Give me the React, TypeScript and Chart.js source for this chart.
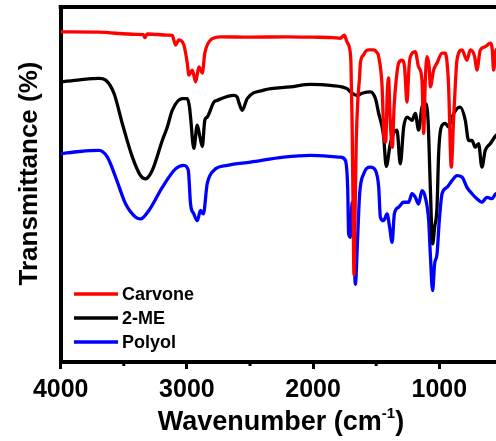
import React, { useEffect, useRef } from "react";
import { Chart, registerables } from "chart.js";

Chart.register(...registerables);

const seriesLabels = ["Carvone", "2-ME", "Polyol"];
const seriesColors = ["#ff0000", "#000000", "#0000ff"];

const carvoneWavenumber = [
  4000, 3700, 3400, 3345, 3333, 3315, 3150, 3116, 3090, 3064, 3024, 3005, 2997, 2984, 2957, 2931, 2905, 2878,
  2858, 2813, 2733, 2500, 2200, 2000, 1850, 1784, 1752, 1735, 1726, 1712, 1700, 1691, 1682, 1676, 1668, 1658,
  1645, 1632, 1625, 1600, 1586, 1560, 1520, 1495, 1480, 1453, 1438, 1425, 1412, 1402, 1390, 1372, 1358, 1340,
  1322, 1295, 1275, 1256, 1240, 1229, 1190, 1164, 1137, 1124, 1110, 1097, 1080, 1071, 1045, 1018, 978, 952,
  935, 926, 905, 887, 870, 860, 820, 781, 754, 720, 702, 675, 636, 596, 580, 570, 551, 500, 400,
];
const carvoneT = [
  93.0, 92.9, 92.3, 92.2, 91.4, 92.4, 92.1, 92.0, 89.3, 90.7, 89.3, 86.0, 84.2, 80.8, 82.2, 78.9, 83.1, 81.4,
  87.0, 90.7, 91.6, 91.5, 91.6, 91.5, 91.4, 91.2, 92.1, 90.5, 89.8, 88.5, 84.0, 68.0, 40.0, 24.5, 40.0, 62.0,
  74.0, 80.0, 84.2, 86.5, 87.4, 87.9, 87.9, 87.2, 86.0, 77.5, 63.0, 62.0, 76.0, 80.0, 69.0, 60.5, 72.0, 80.0,
  84.2, 85.0, 83.0, 73.2, 83.0, 86.0, 87.4, 83.1, 79.4, 64.4, 80.0, 86.0, 83.0, 77.5, 82.2, 84.2, 87.0, 87.0,
  83.0, 77.5, 54.9, 68.1, 80.0, 85.0, 87.9, 85.0, 87.9, 86.0, 82.2, 87.9, 88.8, 89.8, 88.0, 82.2, 87.9, 88.5, 88.5,
];

const meWavenumber = [
  4000, 3850, 3697, 3644, 3578, 3512, 3432, 3367, 3327, 3274, 3195, 3155, 3116, 3037, 2997, 2980, 2971, 2945,
  2918, 2900, 2878, 2858, 2839, 2786, 2760, 2628, 2600, 2589, 2562, 2522, 2391, 2179, 2021, 1863, 1731, 1704,
  1651, 1612, 1546, 1506, 1480, 1453, 1441, 1420, 1388, 1362, 1335, 1309, 1282, 1256, 1216, 1190, 1164, 1137,
  1111, 1089, 1071, 1053, 1037, 1018, 1005, 984, 952, 926, 899, 860, 834, 794, 768, 741, 715, 689, 662, 636,
  596, 551, 500, 400,
];
const meT = [
  78.9, 79.5, 79.9, 79.4, 75.7, 67.2, 57.7, 52.5, 51.6, 54.0, 62.4, 66.2, 70.9, 74.2, 74.2, 72.0, 69.0, 60.2,
  66.7, 64.0, 60.7, 68.1, 69.0, 73.2, 73.7, 75.1, 74.5, 73.2, 70.9, 74.2, 76.6, 77.5, 78.2, 77.9, 77.0, 76.1,
  75.1, 75.7, 76.1, 74.2, 70.0, 66.2, 63.4, 55.1, 61.6, 64.4, 65.3, 55.8, 66.2, 69.0, 68.1, 70.0, 65.3, 71.8,
  72.8, 68.1, 49.2, 33.3, 37.9, 43.6, 58.8, 66.2, 67.2, 66.2, 69.0, 71.4, 71.8, 68.1, 62.4, 62.4, 60.5, 61.5, 54.9, 59.6,
  61.5, 63.8, 65.0, 67.0,
];

const polyolWavenumber = [
  4000, 3850, 3697, 3630, 3565, 3485, 3406, 3367, 3301, 3195, 3090, 3024, 2989, 2971, 2945, 2918, 2892, 2870,
  2839, 2786, 2680, 2496, 2232, 2021, 1784, 1744, 1726, 1718, 1704, 1691, 1678, 1665, 1647, 1631, 1599, 1546,
  1506, 1480, 1467, 1441, 1414, 1393, 1374, 1356, 1322, 1282, 1243, 1216, 1190, 1164, 1137, 1111, 1084, 1071,
  1053, 1037, 1018, 1000, 978, 939, 899, 860, 820, 781, 741, 702, 662, 623, 583, 551, 500, 400,
];
const polyolT = [
  58.7, 59.3, 59.6, 57.7, 52.1, 44.5, 40.8, 40.3, 42.7, 49.2, 54.4, 55.4, 54.0, 44.5, 41.7, 39.8, 42.7, 41.7,
  50.2, 54.0, 55.4, 56.3, 57.7, 58.2, 57.7, 56.8, 49.2, 36.1, 35.1, 45.0, 35.1, 21.9, 35.1, 47.4, 53.0, 54.9,
  54.0, 49.2, 40.8, 39.8, 41.7, 37.9, 33.7, 41.7, 43.6, 45.0, 45.0, 47.4, 46.4, 44.5, 48.3, 46.4, 39.8, 30.4,
  20.1, 27.6, 30.4, 39.8, 47.4, 49.2, 51.1, 52.5, 52.1, 49.2, 47.4, 46.0, 45.0, 46.4, 46.0, 47.4, 47.5, 48.0,
];

const majorTicks = [4000, 3000, 2000, 1000];
const minorTicks = [3500, 2500, 1500, 500];
const xTitleMain = "Wavenumber (cm";
const xTitleSup = "-1";
const xTitleEnd = ")";
const yTitle = "Transmittance (%)";

const FONT = "'Liberation Sans', Arial, sans-serif";

const toPoints = (xs: number[], ys: number[]) => xs.map((x, i) => ({ x, y: ys[i] }));

const decorPlugin = {
  id: "decor",
  afterDraw(chart: any) {
    const { ctx, chartArea: a, scales } = chart;
    const xs = scales.x;
    ctx.save();
    ctx.strokeStyle = "#000";
    ctx.lineCap = "butt";
    // top frame
    ctx.lineWidth = 4;
    ctx.beginPath();
    ctx.moveTo(a.left - 2, a.top);
    ctx.lineTo(a.right, a.top);
    ctx.stroke();
    // minor ticks
    ctx.lineWidth = 3;
    minorTicks.forEach((v) => {
      const px = xs.getPixelForValue(v);
      ctx.beginPath();
      ctx.moveTo(px, a.bottom);
      ctx.lineTo(px, a.bottom + 4);
      ctx.stroke();
    });
    // legend
    const rows = [294, 318, 342];
    chart.data.datasets.forEach((ds: any, i: number) => {
      const y = rows[i];
      ctx.strokeStyle = ds.borderColor;
      ctx.lineWidth = 3.5;
      ctx.beginPath();
      ctx.moveTo(74, y);
      ctx.lineTo(118, y);
      ctx.stroke();
      ctx.fillStyle = "#000";
      ctx.font = `bold 18px ${FONT}`;
      ctx.textAlign = "left";
      ctx.textBaseline = "middle";
      ctx.fillText(ds.label, 122, y + 1);
    });
    // x title
    ctx.fillStyle = "#000";
    ctx.textBaseline = "alphabetic";
    ctx.textAlign = "left";
    const mainFont = `bold 27px ${FONT}`;
    const supFont = `bold 15px ${FONT}`;
    ctx.font = mainFont;
    const w1 = ctx.measureText(xTitleMain).width;
    const w3 = ctx.measureText(xTitleEnd).width;
    ctx.font = supFont;
    const w2 = ctx.measureText(xTitleSup).width;
    const total = w1 + w2 + w3;
    const x0 = 281 - total / 2;
    const base = 430;
    ctx.font = mainFont;
    ctx.fillText(xTitleMain, x0, base);
    ctx.font = supFont;
    ctx.fillText(xTitleSup, x0 + w1, base - 12);
    ctx.font = mainFont;
    ctx.fillText(xTitleEnd, x0 + w1 + w2, base);
    // y title
    ctx.save();
    ctx.translate(37, 173.5);
    ctx.rotate(-Math.PI / 2);
    ctx.font = `bold 26px ${FONT}`;
    ctx.textAlign = "center";
    ctx.textBaseline = "alphabetic";
    ctx.fillText(yTitle, 0, 0);
    ctx.restore();
    ctx.restore();
  },
};

export default function App() {
  const ref = useRef<HTMLCanvasElement>(null);
  useEffect(() => {
    const seriesX = [carvoneWavenumber, meWavenumber, polyolWavenumber];
    const seriesY = [carvoneT, meT, polyolT];
    const chart = new Chart(ref.current as HTMLCanvasElement, {
      type: "line",
      data: {
        datasets: seriesLabels.map((label, i) => ({
          label,
          data: toPoints(seriesX[i], seriesY[i]),
          borderColor: seriesColors[i],
          backgroundColor: seriesColors[i],
          borderWidth: 3.3,
          pointRadius: 0,
          cubicInterpolationMode: "monotone",
          fill: false,
        })),
      },
      options: {
        animation: false,
        responsive: false,
        maintainAspectRatio: false,
        devicePixelRatio: 1,
        layout: { padding: { top: 7, left: 0, right: 0, bottom: 0 } },
        plugins: { legend: { display: false }, tooltip: { enabled: false } },
        scales: {
          x: {
            type: "linear",
            reverse: true,
            min: 400,
            max: 4000,
            afterBuildTicks: (scale: any) => {
              scale.ticks = [...majorTicks, ...minorTicks].sort((p, q) => q - p).map((value) => ({ value }));
            },
            afterFit: (scale: any) => {
              scale.height = 79;
            },
            ticks: {
              autoSkip: false,
              maxRotation: 0,
              padding: 6,
              color: "#000",
              font: { family: FONT, size: 25, weight: "bold" },
              callback: (v: any) => (majorTicks.includes(Number(v)) ? String(v) : ""),
            },
            grid: {
              drawOnChartArea: false,
              drawTicks: true,
              tickLength: 7,
              tickWidth: 3,
              tickColor: (ctx: any) =>
                ctx.tick && majorTicks.includes(ctx.tick.value) ? "#000" : "rgba(0,0,0,0)",
            },
            border: { display: true, width: 4, color: "#000" },
          },
          y: {
            min: 0,
            max: 100,
            afterFit: (scale: any) => {
              scale.width = 60.7;
            },
            ticks: { display: false },
            grid: { drawOnChartArea: false, drawTicks: false },
            border: { display: true, width: 4, color: "#000" },
          },
        },
      },
      plugins: [decorPlugin],
    });
    return () => chart.destroy();
  }, []);
  return (
    <div
      style={{
        position: "absolute",
        left: 0,
        top: 0,
        width: 496,
        height: 441,
        overflow: "hidden",
        background: "#fff",
      }}
    >
      <canvas ref={ref} width={515} height={441} style={{ display: "block" }} />
    </div>
  );
}
